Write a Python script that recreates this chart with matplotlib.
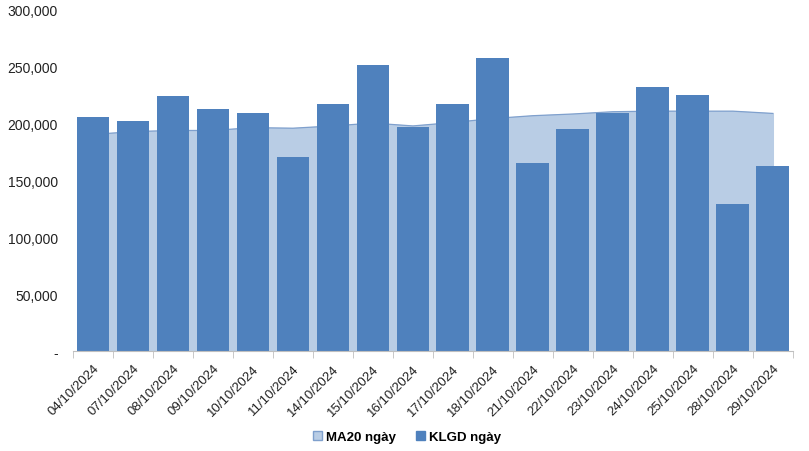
import numpy as np
import matplotlib.pyplot as plt
from matplotlib.ticker import FuncFormatter
from matplotlib.patches import Patch

plt.rcParams['font.family'] = ['Liberation Sans', 'DejaVu Sans']

dates = ['04/10/2024', '07/10/2024', '08/10/2024', '09/10/2024', '10/10/2024',
         '11/10/2024', '14/10/2024', '15/10/2024', '16/10/2024', '17/10/2024',
         '18/10/2024', '21/10/2024', '22/10/2024', '23/10/2024', '24/10/2024',
         '25/10/2024', '28/10/2024', '29/10/2024']
klgd = [205500, 202500, 224000, 212500, 209000, 171000, 217000, 251500, 197000,
        217000, 257500, 165000, 195000, 209000, 232500, 225000, 129500, 163000]
ma20 = [190500, 193000, 194000, 194000, 196500, 196000, 198000, 200500, 198000,
        201000, 204500, 207000, 208500, 210500, 211000, 211000, 211000, 209000]

bar_color = '#4F81BD'
area_color = '#B9CDE5'

fig = plt.figure(figsize=(8.09, 4.52), dpi=100)
ax = fig.add_axes([0.0902, 0.2212, 0.8898, 0.7545])

x = np.arange(len(dates))
ax.fill_between(x, ma20, 0, color=area_color, zorder=1)
ax.plot(x, ma20, color='#7FA0CD', lw=0.9, zorder=1.5)
ax.bar(x, klgd, width=0.82, color=bar_color, zorder=2)

ax.set_xlim(-0.5, len(dates) - 0.5)
ax.set_ylim(0, 300000)
ax.set_yticks(np.arange(0, 300001, 50000))
ax.yaxis.set_major_formatter(FuncFormatter(lambda v, p: '-' if v == 0 else f'{int(v):,}'))

ax.set_xticks(x)
ax.set_xticklabels(dates, rotation=45, ha='right', va='top', rotation_mode='anchor')
ax.set_xticks(np.arange(-0.5, len(dates)), minor=True)
ax.tick_params(axis='x', which='major', length=0, pad=8, labelsize=9.5, colors='#222222')
ax.tick_params(axis='x', which='minor', length=5, color='#BFBFBF', direction='out')
ax.tick_params(axis='y', length=0, labelsize=10, colors='#222222', pad=11)

for s in ['top', 'right', 'left']:
    ax.spines[s].set_visible(False)
ax.spines['bottom'].set_color('#BFBFBF')
ax.spines['bottom'].set_zorder(3)

handles = [Patch(facecolor=area_color, edgecolor='#7FA0CD', label='MA20 ngày'),
           Patch(facecolor=bar_color, edgecolor=bar_color, label='KLGD ngày')]
fig.legend(handles=handles, loc='center', bbox_to_anchor=(0.503, 0.031), ncol=2,
           frameon=False, handlelength=0.7, handleheight=0.7, handletextpad=0.3,
           columnspacing=1.5, prop={'weight': 'bold', 'size': 9.5})

fig.savefig('out.png', dpi=100)
